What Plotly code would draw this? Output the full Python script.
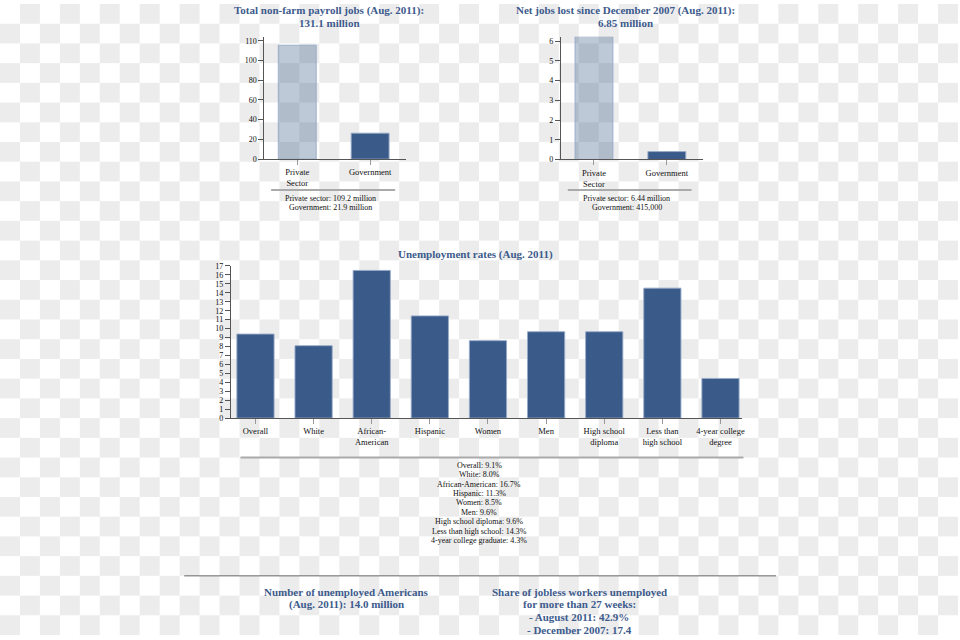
import base64
import plotly.graph_objects as go

# --- data ---
payroll_cats = ["Private<br>Sector", "Government"]
payroll_vals = [115.5, 26.3]          # bar heights as drawn
payroll_ticks = [0, 20, 40, 60, 80, 100, 120]
payroll_ticktext = ["0", "20", "40", "60", "80", "100", "110"]

lost_cats = ["Private<br>Sector", "Government"]
lost_vals = [6.24, 0.4]
lost_ticks = [0, 1, 2, 3, 4, 5, 6]

unemp_cats = ["Overall", "White", "African-<br>American", "Hispanic", "Women",
              "Men", "High school<br>diploma", "Less than<br>high school",
              "4-year college<br>degree"]
unemp_vals = [9.39, 8.09, 16.5, 11.42, 8.65, 9.65, 9.65, 14.52, 4.43]
unemp_ticks = list(range(0, 18))

unemp_notes = ["Overall: 9.1%", "White: 8.0%", "African-American: 16.7%",
               "Hispanic: 11.3%", "Women: 8.5%", "Men: 9.6%",
               "High school diploma: 9.6%", "Less than high school: 14.3%",
               "4-year college graduate: 4.3%"]

W, H = 960, 640
BLUE = "#3a5a8a"
PALE = "rgba(58,90,138,0.33)"
EDGE = "rgba(150,170,200,0.9)"
TXT = "#3d5b8c"
SERIF = "Liberation Serif"


def px(x):
    return x / W


def py(y):
    return 1 - y / H


fig = go.Figure()

fig.add_trace(go.Bar(x=payroll_cats, y=payroll_vals, xaxis="x", yaxis="y",
                     marker=dict(color=[PALE, BLUE], line=dict(color=EDGE, width=1)),
                     cliponaxis=False, hoverinfo="skip"))
fig.add_trace(go.Bar(x=lost_cats, y=lost_vals, xaxis="x2", yaxis="y2",
                     marker=dict(color=[PALE, BLUE], line=dict(color=EDGE, width=1)),
                     cliponaxis=False, hoverinfo="skip"))
fig.add_trace(go.Bar(x=unemp_cats, y=unemp_vals, xaxis="x3", yaxis="y3",
                     marker=dict(color=BLUE, line=dict(color=EDGE, width=1)),
                     cliponaxis=False, hoverinfo="skip"))

xcommon = dict(showgrid=False, zeroline=False, showline=True, linecolor="#555",
               linewidth=1, ticks="outside", ticklen=5, tickcolor="#999",
               tickfont=dict(family=SERIF, size=8.5, color="#111"), fixedrange=True)
ycommon = dict(showgrid=False, zeroline=False, showline=True, linecolor="#555",
               linewidth=1, ticks="outside", ticklen=5, tickcolor="#555",
               tickfont=dict(family=SERIF, size=8, color="#111"), fixedrange=True)

# checkerboard background (transparency look)
svg = ('<svg xmlns="http://www.w3.org/2000/svg" width="960" height="640">'
       '<defs><pattern id="c" width="40" height="40" patternUnits="userSpaceOnUse">'
       '<rect width="40" height="40" fill="#ffffff"/>'
       '<rect x="20" y="0" width="20" height="20" fill="#ececec"/>'
       '<rect x="0" y="20" width="20" height="20" fill="#ececec"/>'
       '</pattern></defs><rect width="960" height="640" fill="url(#c)"/></svg>')
src = "data:image/svg+xml;base64," + base64.b64encode(svg.encode()).decode()

fig.update_layout(
    width=W, height=H,
    margin=dict(l=0, r=0, t=0, b=0),
    paper_bgcolor="white", plot_bgcolor="rgba(0,0,0,0)",
    showlegend=False, bargap=0.48,
    images=[dict(source=src, xref="paper", yref="paper", x=0, y=1,
                 sizex=1, sizey=1, xanchor="left", yanchor="top",
                 sizing="stretch", layer="below")],
    xaxis=dict(xcommon, domain=[px(265), px(406.7)], range=[-0.45, 1.49],
               anchor="y"),
    yaxis=dict(ycommon, domain=[py(157.3), py(33.3)], range=[0, 124],
               tickvals=payroll_ticks, ticktext=payroll_ticktext, anchor="x"),
    xaxis2=dict(xcommon, domain=[px(562), px(704)], range=[-0.455, 1.49],
                anchor="y2"),
    yaxis2=dict(ycommon, domain=[py(157.7), py(33.3)], range=[0, 6.22],
                tickvals=lost_ticks, anchor="x2"),
    xaxis3=dict(xcommon, domain=[px(231.3), px(744)], range=[-0.424, 8.378],
                anchor="y3"),
    yaxis3=dict(ycommon, domain=[py(420), py(265.7)], range=[0, 17],
                tickvals=unemp_ticks, anchor="x3"),
)
fig.update_traces(selector=dict(xaxis="x3"), width=0.64)

ann = []


def text(x, y, s, size, color, bold=False):
    if bold:
        s = "<b>" + s + "</b>"
    ann.append(dict(x=px(x), y=py(y), xref="paper", yref="paper", text=s,
                    showarrow=False, xanchor="center", yanchor="middle",
                    font=dict(family=SERIF, size=size, color=color)))


text(330, 7, "Total non-farm payroll jobs (Aug. 2011):", 11, TXT, True)
text(330, 19.5, "131.1 million", 11, TXT, True)
text(627, 7, "Net jobs lost since December 2007 (Aug. 2011):", 11, TXT, True)
text(627, 19.5, "6.85 million", 11, TXT, True)

text(331, 197, "Private sector: 109.2 million", 8, "#111")
text(331, 206.5, "Government: 21.9 million", 8, "#111")
text(628, 197, "Private sector: 6.44 million", 8, "#111")
text(628, 206.5, "Government: 415,000", 8, "#111")

text(476, 254.5, "Unemployment rates (Aug. 2011)", 11, TXT, True)

for i, line in enumerate(unemp_notes):
    text(480, 467.7 + i * 9.6, line, 8, "#111")

text(347.5, 596, "Number of unemployed Americans", 11, TXT, True)
text(347.5, 609, "(Aug. 2011): 14.0 million", 11, TXT, True)
text(580.5, 596, "Share of jobless workers unemployed", 11, TXT, True)
text(580.5, 609, "for more than 27 weeks:", 11, TXT, True)
text(580.5, 622, "- August 2011: 42.9%", 11, TXT, True)
text(580.5, 635, "- December 2007: 17.4", 11, TXT, True)

fig.update_layout(annotations=ann)

shp = []
for x0, x1, y in [(271.7, 396, 188.7), (569, 693, 188.7), (241, 745, 460)]:
    shp.append(dict(type="line", xref="paper", yref="paper", x0=px(x0), x1=px(x1),
                    y0=py(y), y1=py(y), line=dict(color="#aaaaaa", width=2)))
shp.append(dict(type="line", xref="paper", yref="paper", x0=px(184.6), x1=px(777.7),
                y0=py(580), y1=py(580), line=dict(color="#666666", width=1)))
fig.update_layout(shapes=shp)

fig.write_html("out.html", config={"displayModeBar": False},
               post_script="document.body.style.margin='0';"
                           "document.body.style.overflow='hidden';")
